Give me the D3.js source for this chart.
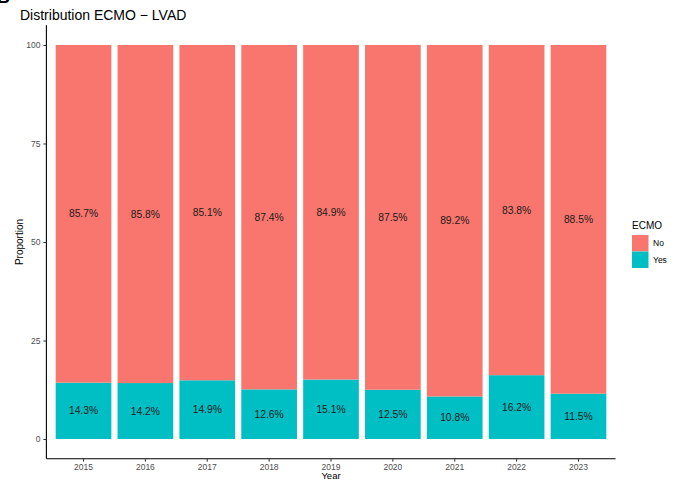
<!DOCTYPE html>
<html>
<head>
<meta charset="utf-8">
<script src="https://cdn.jsdelivr.net/npm/d3@7"></script>
<style>
  html, body { margin: 0; padding: 0; background: #fff; }
  svg { display: block; font-family: "Liberation Sans", Arial, sans-serif; }
</style>
</head>
<body>
<svg id="chart" width="678" height="480"></svg>
<script>
// ECMO use among LVAD patients by implant year (percent)
const years = ["2015", "2016", "2017", "2018", "2019", "2020", "2021", "2022", "2023"];
const ecmoYes = [14.3, 14.2, 14.9, 12.6, 15.1, 12.5, 10.8, 16.2, 11.5];
const ecmoNo  = [85.7, 85.8, 85.1, 87.4, 84.9, 87.5, 89.2, 83.8, 88.5];
const groups = ["No", "Yes"];
const groupColors = ["#F8766D", "#00BFC4"];
const yTicks = [0, 25, 50, 75, 100];

const svg = d3.select("#chart");

// Panel extent
const panelLeft = 46.4, panelRight = 615.6, panelTop = 25.3, panelBottom = 458.7;

// Bands: 90% bar width, 0.6-step expansion at each end
const x = d3.scaleBand().domain(years)
  .range([panelLeft, panelRight]).paddingInner(0.1).paddingOuter(0.15);
// y with 5% expansion
const y = d3.scaleLinear().domain([-5, 105]).range([panelBottom, panelTop]);
const color = d3.scaleOrdinal().domain(groups).range(groupColors);

const rows = years.map((yr, i) => ({ year: yr, Yes: ecmoYes[i], No: ecmoNo[i] }));
// Yes sits at the bottom, No stacked on top
const stacked = d3.stack().keys(["Yes", "No"])(rows);

const g = svg.append("g");

g.selectAll("g.layer").data(stacked).join("g")
  .attr("class", "layer")
  .attr("fill", d => color(d.key))
  .selectAll("rect").data(d => d).join("rect")
  .attr("x", d => x(d.data.year))
  .attr("width", x.bandwidth())
  .attr("y", d => y(d[1]))
  .attr("height", d => y(d[0]) - y(d[1]));

// Percent labels centred in each segment
stacked.forEach(layer => {
  g.append("g").selectAll("text").data(layer).join("text")
    .attr("x", d => x(d.data.year) + x.bandwidth() / 2)
    .attr("y", d => y((d[0] + d[1]) / 2))
    .attr("dy", "0.35em")
    .attr("text-anchor", "middle")
    .attr("font-size", 10.3)
    .attr("fill", "#1a1a1a")
    .text(d => d.data[layer.key].toFixed(1) + "%");
});

// Axes
const yAxis = d3.axisLeft(y).tickValues(yTicks).tickSize(3).tickPadding(3);
const xAxis = d3.axisBottom(x).tickSize(3).tickPadding(2);

const ya = svg.append("g").attr("transform", `translate(${panelLeft},0)`).call(yAxis);
const xa = svg.append("g").attr("transform", `translate(0,${panelBottom})`).call(xAxis);
ya.select(".domain").attr("d", `M0,${panelTop}V${panelBottom}`);
xa.select(".domain").attr("d", `M${panelLeft},0H${panelRight}`);
[ya, xa].forEach(a => {
  a.select(".domain").attr("stroke", "#000").attr("stroke-width", 1.1);
  a.selectAll(".tick line").attr("stroke", "#333");
  a.selectAll(".tick text").attr("fill", "#4d4d4d").attr("font-size", 8.5)
    .attr("font-family", "Liberation Sans, Arial, sans-serif");
});

// Titles
svg.append("text").attr("x", 20).attr("y", 20)
  .attr("font-size", 14).attr("fill", "#000")
  .text("Distribution ECMO \u2212 LVAD");
svg.append("text")
  .attr("transform", `translate(23,${(panelTop + panelBottom) / 2}) rotate(-90)`)
  .attr("text-anchor", "middle").attr("font-size", 10).attr("fill", "#000")
  .text("Proportion");
svg.append("text").attr("x", (panelLeft + panelRight) / 2).attr("y", 479.3)
  .attr("text-anchor", "middle").attr("font-size", 9.5).attr("fill", "#000")
  .text("Year");

// Panel tag
svg.append("text").attr("x", -3).attr("y", 3)
  .attr("font-size", 18).attr("font-weight", "bold").attr("fill", "#000")
  .text("B");

// Legend
const legend = svg.append("g").attr("transform", "translate(632,0)");
legend.append("text").attr("x", 0).attr("y", 229)
  .attr("font-size", 10).attr("fill", "#000").text("ECMO");
groups.forEach((k, i) => {
  const ky = 235 + i * 16.5;
  legend.append("rect").attr("x", 0).attr("y", ky)
    .attr("width", 16.5).attr("height", 16.5).attr("fill", color(k));
  legend.append("text").attr("x", 21).attr("y", ky + 8.25).attr("dy", "0.35em")
    .attr("font-size", 8.5).attr("fill", "#000").text(k);
});
</script>
</body>
</html>
